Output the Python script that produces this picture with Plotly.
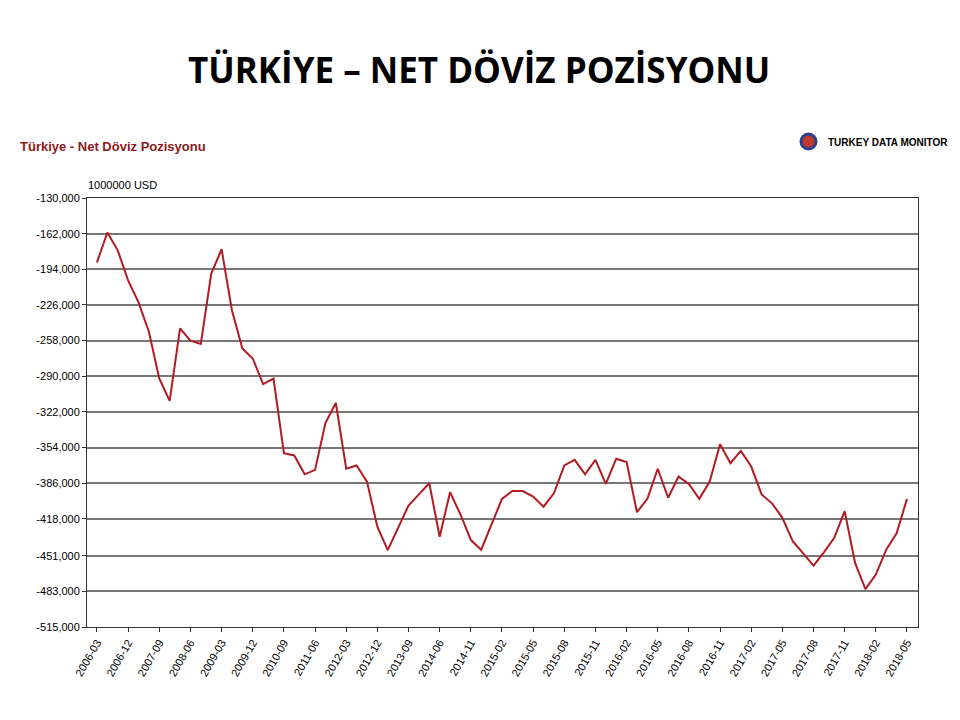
import plotly.graph_objects as go

dates = ["2006-03","2006-06","2006-09","2006-12","2007-03","2007-06","2007-09","2007-12","2008-03","2008-06",
 "2008-09","2008-12","2009-03","2009-06","2009-09","2009-12","2010-03","2010-06","2010-09","2010-12",
 "2011-03","2011-06","2011-09","2011-12","2012-03","2012-06","2012-09","2012-12","2013-03","2013-06",
 "2013-09","2013-12","2014-03","2014-06","2014-09","2014-10","2014-11","2014-12","2015-01","2015-02",
 "2015-03","2015-04","2015-05","2015-06","2015-07","2015-08","2015-09","2015-10","2015-11","2015-12",
 "2016-01","2016-02","2016-03","2016-04","2016-05","2016-06","2016-07","2016-08","2016-09","2016-10",
 "2016-11","2016-12","2017-01","2017-02","2017-03","2017-04","2017-05","2017-06","2017-07","2017-08",
 "2017-09","2017-10","2017-11","2017-12","2018-01","2018-02","2018-03","2018-04","2018-05"]

values = [-187800,-161000,-177000,-204000,-223600,-250000,-292000,-312000,-247000,-258000,
 -261000,-198000,-176000,-231000,-265000,-274000,-297000,-292000,-359000,-361000,
 -378000,-374000,-332000,-314000,-373000,-370000,-384500,-425000,-446000,-426000,
 -406000,-396000,-386000,-434000,-394000,-414000,-437000,-445600,-423000,-400000,
 -393000,-393000,-398000,-407000,-395000,-370000,-365000,-378000,-365000,-386600,
 -364000,-367000,-412000,-400000,-373000,-399000,-380000,-386600,-400000,-384500,
 -351000,-368000,-357000,-371000,-396000,-404000,-417000,-438000,-449000,-460000,
 -448000,-435000,-411000,-457500,-481000,-468000,-445600,-431000,-400000]

y_ticks = [-130000,-162000,-194000,-226000,-258000,-290000,-322000,-354000,-386000,-418000,-451000,-483000,-515000]
y_tick_labels = ["-130,000","-162,000","-194,000","-226,000","-258,000","-290,000","-322,000","-354,000",
 "-386,000","-418,000","-451,000","-483,000","-515,000"]
x_ticks = dates[::3]

PL, PR, PT, PB = 87, 918, 197, 626
DX, DY = 8, 7

fig = go.Figure(go.Scatter(x=dates, y=values, mode="lines",
                           line=dict(color="#b01c22", width=2)))

fig.update_layout(
    width=960, height=720, paper_bgcolor="white", plot_bgcolor="white",
    margin=dict(l=PL - DX, r=960 - PR + DX, t=PT - DY, b=720 - PB + DY), showlegend=False,
    font=dict(family="Liberation Sans, Arial", color="#000"),
)
fig.update_xaxes(type="category", range=[-0.96, 79.06], tickmode="array",
                 tickvals=x_ticks, ticktext=x_ticks, tickangle=-60,
                 tickfont=dict(size=11), showgrid=False, showline=True,
                 linecolor="#333", linewidth=1, mirror=True, ticks="outside",
                 ticklen=4, tickcolor="#333")
fig.update_yaxes(range=[-515000, -130000], tickmode="array", tickvals=y_ticks,
                 ticktext=y_tick_labels, tickfont=dict(size=11), showgrid=True,
                 gridcolor="#777", gridwidth=2, showline=True, linecolor="#333",
                 linewidth=1, mirror=True, zeroline=False, ticks="outside",
                 ticklen=4, tickcolor="#333")

def to_paper(px, py):
    return (px - PL) / (PR - PL), (PB - py) / (PB - PT)
def ann(text, px, py, size, color="#000", xanchor="left", family="Liberation Sans, Arial"):
    x, y = to_paper(px, py)
    fig.add_annotation(text=text, x=x, y=y, xref="paper", yref="paper",
                       xanchor=xanchor, yanchor="middle", showarrow=False,
                       font=dict(size=size, color=color, family=family))

ann("<b>TÜRKİYE – NET DÖVİZ POZİSYONU</b>", 479, 68, 35, family="Open Sans, Liberation Sans", xanchor="center")
ann("<b>Türkiye - Net Döviz Pozisyonu</b>", 18, 145, 13, color="#8b1a1a")
ann("1000000 USD", 86, 184, 11)
ann("<b>TURKEY DATA MONITOR</b>", 950, 141, 10, xanchor="right", family="Liberation Sans Narrow, Liberation Sans")
cx0, cy0 = to_paper(801, 133)
cx1, cy1 = to_paper(816, 148)
fig.add_shape(type="circle", xref="paper", yref="paper", x0=cx0, y0=cy0, x1=cx1, y1=cy1,
              fillcolor="#c0392b", line=dict(color="#2c3e90", width=3))

fig.write_html("out.html")
